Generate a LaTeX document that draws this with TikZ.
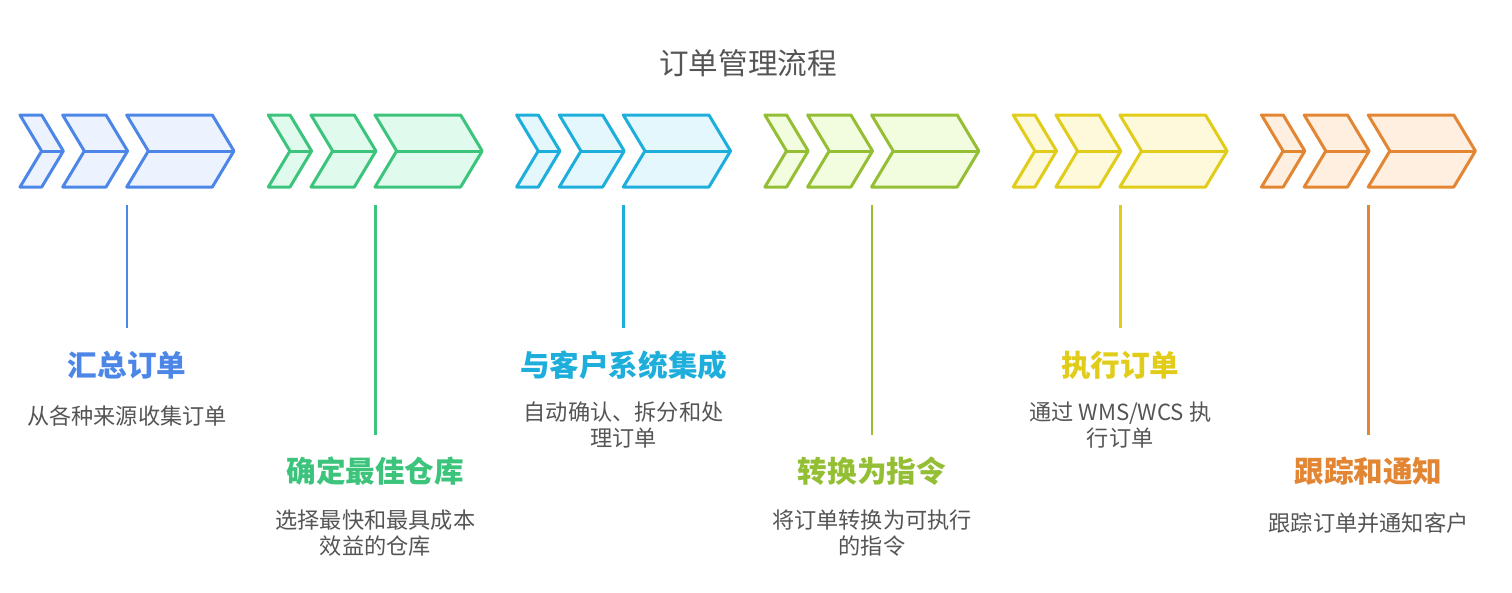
\documentclass[tikz,border=0pt]{standalone}
\usepackage{fontspec}
\setmainfont{Noto Sans CJK SC}
\definecolor{c1s}{HTML}{4C87E8}\definecolor{c1f}{HTML}{EDF3FE}
\definecolor{c2s}{HTML}{3CC47C}\definecolor{c2f}{HTML}{E0FAEE}
\definecolor{c3s}{HTML}{1EAEDB}\definecolor{c3f}{HTML}{E4F7FD}
\definecolor{c4s}{HTML}{94BF35}\definecolor{c4f}{HTML}{F2FCDE}
\definecolor{c5s}{HTML}{E2CC1A}\definecolor{c5f}{HTML}{FEF9DA}
\definecolor{c6s}{HTML}{E28633}\definecolor{c6f}{HTML}{FEEFE1}
\definecolor{txt}{HTML}{555555}
\tikzset{
  chev/.style={line width=3pt, line join=round},
  vline/.style={line width=2.6pt},
  ttl/.style={inner sep=0pt, anchor=center, font=\fontsize{29.6}{35}\selectfont\bfseries},
  dsc/.style={inner sep=0pt, anchor=center, align=center, text=txt, font=\fontsize{22.2}{26}\selectfont},
  maintitle/.style={inner sep=0pt, anchor=center, text=txt, font=\fontsize{29.6}{35}\selectfont}
}
\newcommand\chevgroup[3]{%
  \begin{scope}[shift={(#1,0)}]
    \foreach \a/\w in {0/21.7, 42.7/43.3, 106.7/85.6}{
      \filldraw[draw=#2, fill=#3, chev] (\a,115) -- ++(\w,0) -- ++(21.6,36) -- ++(-21.6,36) -- ++(-\w,0) -- ++(21.6,-36) -- cycle;
      \draw[draw=#2, chev] (\a+21.6,151) -- ++(\w,0);
    }
  \end{scope}
}
\begin{document}
\begin{tikzpicture}[x=1pt,y=-1pt]
\useasboundingbox (0,0) rectangle (1512,592);
\node[maintitle] (title) at (748,63) {订单管理流程};
% chevron groups
\chevgroup{20}{c1s}{c1f}
\chevgroup{268.3}{c2s}{c2f}
\chevgroup{516.6}{c3s}{c3f}
\chevgroup{764.9}{c4s}{c4f}
\chevgroup{1013.2}{c5s}{c5f}
\chevgroup{1261.5}{c6s}{c6f}
% connector lines
\coordinate (t1) at (127,205);   \coordinate (b1) at (127,328);
\coordinate (t2) at (375.3,205); \coordinate (b2) at (375.3,435);
\coordinate (t3) at (623.6,205); \coordinate (b3) at (623.6,328);
\coordinate (t4) at (871.9,205); \coordinate (b4) at (871.9,435);
\coordinate (t5) at (1120.2,205);\coordinate (b5) at (1120.2,328);
\coordinate (t6) at (1368.5,205);\coordinate (b6) at (1368.5,435);
\draw[vline, c1s] (t1) -- (b1);
\draw[vline, c2s] (t2) -- (b2);
\draw[vline, c3s] (t3) -- (b3);
\draw[vline, c4s] (t4) -- (b4);
\draw[vline, c5s] (t5) -- (b5);
\draw[vline, c6s] (t6) -- (b6);
% titles
\node[ttl, text=c1s] (h1) at (127,365) {汇总订单};
\node[ttl, text=c2s] (h2) at (375.3,471) {确定最佳仓库};
\node[ttl, text=c3s] (h3) at (623.6,365) {与客户系统集成};
\node[ttl, text=c4s] (h4) at (871.9,471) {转换为指令};
\node[ttl, text=c5s] (h5) at (1120.2,365) {执行订单};
\node[ttl, text=c6s] (h6) at (1368.5,471) {跟踪和通知};
% descriptions
\node[dsc] (d1) at (127,416) {从各种来源收集订单};
\node[dsc] (d2) at (375.3,533.5) {选择最快和最具成本\\效益的仓库};
\node[dsc] (d3) at (623.6,425) {自动确认、拆分和处\\理订单};
\node[dsc] (d4) at (871.9,533.5) {将订单转换为可执行\\的指令};
\node[dsc] (d5) at (1120.2,425) {通过 WMS/WCS 执\\行订单};
\node[dsc] (d6) at (1368.5,523) {跟踪订单并通知客户};
\end{tikzpicture}
\end{document}
